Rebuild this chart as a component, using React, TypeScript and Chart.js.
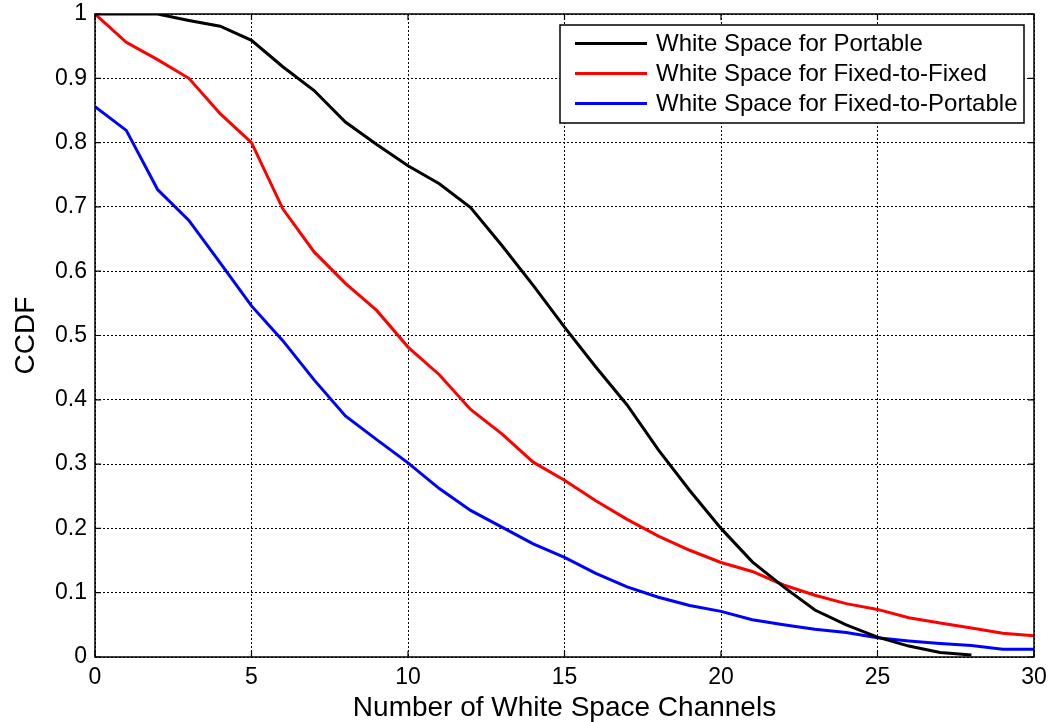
import React, { useEffect, useRef } from "react";
import { Chart, registerables } from "chart.js";

Chart.register(...registerables);

const channels = [0, 1, 2, 3, 4, 5, 6, 7, 8, 9, 10, 11, 12, 13, 14, 15, 16, 17, 18, 19, 20, 21, 22, 23, 24, 25, 26, 27, 28, 29, 30];

const portable = [1, 1, 1, 0.99, 0.981, 0.959, 0.918, 0.881, 0.832, 0.797, 0.764, 0.736, 0.699, 0.64, 0.578, 0.513, 0.451, 0.392, 0.322, 0.259, 0.2, 0.148, 0.109, 0.073, 0.05, 0.031, 0.017, 0.007, 0.003];
const fixedToFixed = [1, 0.956, 0.929, 0.9, 0.845, 0.8, 0.697, 0.63, 0.581, 0.539, 0.482, 0.439, 0.385, 0.347, 0.303, 0.275, 0.243, 0.214, 0.188, 0.166, 0.147, 0.133, 0.112, 0.096, 0.083, 0.074, 0.061, 0.053, 0.045, 0.037, 0.033];
const fixedToPortable = [0.856, 0.819, 0.727, 0.679, 0.613, 0.546, 0.492, 0.431, 0.375, 0.338, 0.302, 0.262, 0.228, 0.202, 0.176, 0.155, 0.13, 0.109, 0.093, 0.08, 0.071, 0.058, 0.05, 0.043, 0.038, 0.03, 0.025, 0.021, 0.018, 0.012, 0.012];

const seriesNames = ["White Space for Portable", "White Space for Fixed-to-Fixed", "White Space for Fixed-to-Portable"];
const seriesColors = ["#000000", "#ff0000", "#0000ff"];

const xTitle = "Number of White Space Channels";
const yTitle = "CCDF";

const FONT = "'Liberation Sans', Arial, sans-serif";

const toPoints = (ys: number[]) => ys.map((y, i) => ({ x: channels[i], y }));

const framePlugin = {
  id: "frame",
  afterDatasetsDraw(chart: any) {
    const { ctx, chartArea } = chart;
    const { left, right, top, bottom } = chartArea;
    ctx.save();
    ctx.strokeStyle = "#000";
    ctx.lineWidth = 1.5;
    ctx.setLineDash([]);
    ctx.strokeRect(left, top, right - left, bottom - top);
    const xs = chart.scales.x;
    const ys = chart.scales.y;
    const tl = 6;
    ctx.lineWidth = 1.2;
    ctx.beginPath();
    xs.ticks.forEach((t: any) => {
      const px = xs.getPixelForValue(t.value);
      ctx.moveTo(px, bottom);
      ctx.lineTo(px, bottom - tl);
      ctx.moveTo(px, top);
      ctx.lineTo(px, top + tl);
    });
    ys.ticks.forEach((t: any) => {
      const py = ys.getPixelForValue(t.value);
      ctx.moveTo(left, py);
      ctx.lineTo(left + tl, py);
      ctx.moveTo(right, py);
      ctx.lineTo(right - tl, py);
    });
    ctx.stroke();

    // legend box
    const bx = right - 474;
    const by = top + 11;
    const bw = 464;
    const bh = 98;
    ctx.fillStyle = "#fff";
    ctx.fillRect(bx, by, bw, bh);
    ctx.lineWidth = 1.5;
    ctx.strokeStyle = "#000";
    ctx.strokeRect(bx, by, bw, bh);
    ctx.font = `24px ${FONT}`;
    ctx.textBaseline = "middle";
    ctx.textAlign = "left";
    chart.data.datasets.forEach((ds: any, i: number) => {
      const rowY = by + 18.5 + i * 30;
      ctx.strokeStyle = ds.borderColor;
      ctx.lineWidth = 3;
      ctx.beginPath();
      ctx.moveTo(bx + 15, rowY);
      ctx.lineTo(bx + 87, rowY);
      ctx.stroke();
      ctx.fillStyle = "#000";
      ctx.fillText(ds.label, bx + 96, rowY + 1);
    });
    ctx.restore();
  },
};

export default function App() {
  const canvasRef = useRef<HTMLCanvasElement | null>(null);

  useEffect(() => {
    if (!canvasRef.current) return;
    const datasets = [portable, fixedToFixed, fixedToPortable].map((ys, i) => ({
      label: seriesNames[i],
      data: toPoints(ys),
      borderColor: seriesColors[i],
      backgroundColor: seriesColors[i],
      borderWidth: 3,
      pointRadius: 0,
      tension: 0,
      fill: false,
    }));
    const gridStyle = {
      color: "#000",
      lineWidth: 1,
      drawTicks: false,
    };
    const chart = new Chart(canvasRef.current, {
      type: "line",
      data: { datasets },
      options: {
        animation: false,
        responsive: true,
        maintainAspectRatio: false,
        layout: { padding: { left: 0, right: 17, top: 14, bottom: 0 } },
        plugins: { legend: { display: false }, tooltip: { enabled: false } },
        scales: {
          x: {
            type: "linear",
            min: 0,
            max: 30,
            ticks: {
              stepSize: 5,
              padding: 7,
              color: "#000",
              font: { family: FONT, size: 23 },
            },
            grid: gridStyle,
            border: { display: false, dash: [2, 2] },
            title: {
              display: true,
              text: xTitle,
              color: "#000",
              font: { family: FONT, size: 28, lineHeight: 1 },
              padding: 0,
            },
            afterFit: (s: any) => {
              s.height = 65;
              s.paddingLeft = 0;
              s.paddingRight = 0;
            },
          },
          y: {
            type: "linear",
            min: 0,
            max: 1,
            ticks: {
              stepSize: 0.1,
              padding: 8,
              color: "#000",
              font: { family: FONT, size: 23 },
              callback: (v: any) => String(Number(Number(v).toFixed(1))),
            },
            grid: gridStyle,
            border: { display: false, dash: [2, 2] },
            title: {
              display: true,
              text: yTitle,
              color: "#000",
              font: { family: FONT, size: 28, lineHeight: 1 },
              padding: { top: 12, bottom: 0 },
            },
            afterFit: (s: any) => {
              s.width = 95;
              s.paddingTop = 0;
              s.paddingBottom = 0;
            },
          },
        },
      },
      plugins: [framePlugin],
    });
    return () => chart.destroy();
  }, []);

  return (
    <div style={{ position: "fixed", left: 0, top: 0, width: 1051, height: 722, background: "#fff" }}>
      <canvas ref={canvasRef} />
    </div>
  );
}
